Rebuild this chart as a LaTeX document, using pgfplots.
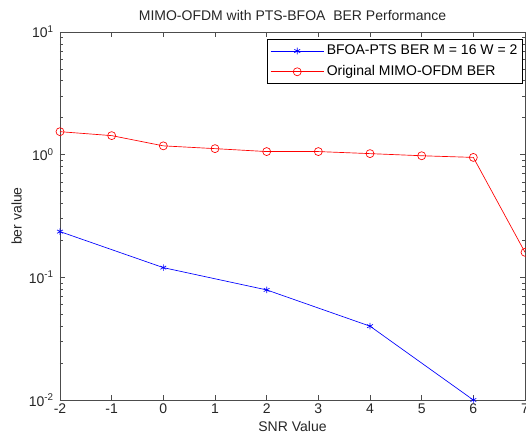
\documentclass[border=0pt]{standalone}
\usepackage{fontspec}
\setmainfont{Liberation Sans}
\usepackage{pgfplots}
\pgfplotsset{compat=1.18}
\begin{document}
\fontsize{10.5}{12}\selectfont
\begin{tikzpicture}
\begin{axis}[
  name=ax,
  scale only axis,
  width=348.75pt, height=276pt,
  ymode=log,
  xmin=-2, xmax=7, ymin=0.01, ymax=10,
  xtick={-2,-1,0,1,2,3,4,5,6,7},
  xticklabels={-2,-1,0,1,2,3,4,5,6,7},
  ytick={0.01,0.1,1,10},
  yticklabels={10\textsuperscript{-2},10\textsuperscript{-1},10\textsuperscript{0},10\textsuperscript{1}},
  tick align=inside,
  tick pos=both,
  major tick length=4pt, minor tick length=2pt,
  axis line style={black!70, line width=0.6pt},
  every tick/.style={black!70, line width=0.5pt},
  tick label style={font=\fontsize{10.5}{12}\selectfont, text=black!85},
  xticklabel style={yshift=1pt},
  yticklabel style={xshift=-1pt},
  xlabel={SNR Value}, ylabel={ber value},
  label style={font=\fontsize{10.5}{12}\selectfont, text=black!85},
  xlabel style={yshift=1pt},
  ylabel style={yshift=-2pt},
  title={MIMO-OFDM with PTS-BFOA\ \ BER Performance},
  title style={font=\fontsize{10.5}{12}\selectfont, text=black!85, yshift=-1pt},
  legend style={at={(0.996,0.98)}, anchor=north east, draw=black, line width=0.6pt,
    font=\fontsize{10.5}{12}\selectfont, row sep=2.5pt, inner sep=2pt},
  legend cell align=left,
  legend image code/.code={
    \draw[mark repeat=2,mark phase=2] plot coordinates {(0cm,0cm) (0.7cm,0cm) (1.4cm,0cm)};
  },
]
\addplot[blue, line width=0.5pt, mark=asterisk, mark size=2.5pt, mark options={solid}]
  coordinates {(-2,0.236) (0,0.12) (2,0.079) (4,0.040) (6,0.010)};
\addlegendentry{BFOA-PTS BER M = 16 W = 2}
\addplot[red, line width=0.5pt, mark=o, mark size=3pt, mark options={solid}]
  coordinates {(-2,1.54) (-1,1.43) (0,1.18) (1,1.12) (2,1.06) (3,1.06) (4,1.02) (5,0.98) (6,0.95) (7,0.16)};
\addlegendentry{Original MIMO-OFDM BER}
\end{axis}
\pgfresetboundingbox
\path[use as bounding box] ([xshift=-45pt,yshift=-27pt]ax.south west) rectangle ([xshift=0.75pt,yshift=24pt]ax.north east);
\end{tikzpicture}
\end{document}
